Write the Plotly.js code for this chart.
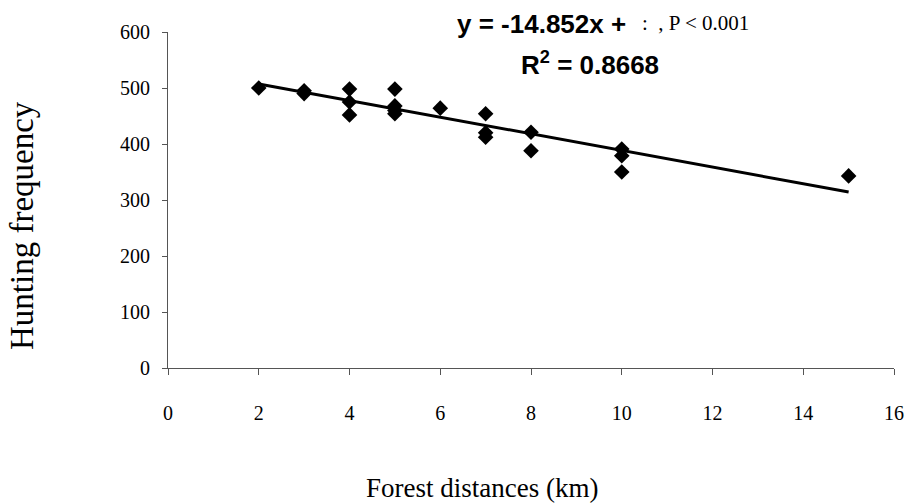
<!DOCTYPE html>
<html>
<head>
<meta charset="utf-8">
<script src="https://cdn.plot.ly/plotly-3.0.1.min.js"></script>
<style>html,body{margin:0;padding:0;background:#fff;}#chart{width:907px;height:504px;}</style>
</head>
<body>
<div id="chart"></div>
<script>
// Observed data (forest distance km, hunting frequency)
const distances = [2, 3, 3, 4, 4, 4, 5, 5, 5, 5, 6, 7, 7, 7, 8, 8, 10, 10, 10, 15];
const hunting   = [500, 495, 490, 498, 475, 452, 498, 468, 460, 454, 464, 454, 420, 412, 421, 388, 391, 379, 350, 343];

// Trend line coefficients (slope from the equation, intercept estimated)
const slope = -14.852;
const intercept = 537;
const trendX = [2, 15];
const trendY = trendX.map(x => slope * x + intercept);

const xTicks = [0, 2, 4, 6, 8, 10, 12, 14, 16];
const yTicks = [0, 100, 200, 300, 400, 500, 600];

const serif = '"Liberation Serif", "Times New Roman", serif';
const sans = '"Liberation Sans", Arial, sans-serif';

const traces = [
  {x: trendX, y: trendY, type: 'scatter', mode: 'lines',
   line: {color: '#000', width: 3}, hoverinfo: 'skip'},
  {x: distances, y: hunting, type: 'scatter', mode: 'markers',
   marker: {symbol: 'diamond', size: 12, color: '#000'}}
];

// helpers: pixel -> paper coordinates
const L = 168, T = 32, W = 726, H = 336;
const px = v => (v - L) / W;
const py = v => (T + H - v) / H;

const layout = {
  width: 907, height: 504,
  margin: {l: L, r: 907 - L - W, t: T, b: 504 - T - H},
  paper_bgcolor: '#fff', plot_bgcolor: '#fff',
  showlegend: false,
  font: {family: serif, color: '#000', size: 18},
  xaxis: {
    range: [0, 16], tickvals: xTicks, ticktext: xTicks.map(String),
    showgrid: false, zeroline: false, showline: true, linecolor: '#555', linewidth: 1,
    ticks: 'outside', ticklen: 6, tickcolor: '#555',
    ticklabelstandoff: 21,
    tickfont: {family: serif, size: 20, color: '#000'}
  },
  yaxis: {
    range: [0, 600], tickvals: yTicks, ticktext: yTicks.map(String),
    showgrid: false, zeroline: false, showline: true, linecolor: '#555', linewidth: 1,
    ticks: 'outside', ticklen: 5, tickcolor: '#555',
    ticklabelstandoff: 8,
    tickfont: {family: serif, size: 20, color: '#000'}
  },
  annotations: [
    {xref: 'paper', yref: 'paper', x: px(482), y: py(488),
     xanchor: 'center', yanchor: 'middle', showarrow: false,
     text: 'Forest distances (km)', font: {family: serif, size: 27, color: '#000'}},
    {xref: 'paper', yref: 'paper', x: px(22), y: py(226), textangle: -90,
     xanchor: 'center', yanchor: 'middle', showarrow: false,
     text: 'Hunting frequency', font: {family: serif, size: 33, color: '#000'}},
    {xref: 'paper', yref: 'paper', x: px(455), y: py(24),
     xanchor: 'left', yanchor: 'middle', showarrow: false,
     text: '<b>y = -14.852x + </b>', font: {family: sans, size: 26, color: '#000'}},
    {xref: 'paper', yref: 'paper', x: px(640), y: py(23),
     xanchor: 'left', yanchor: 'middle', showarrow: false,
     text: ':  , P &lt; 0.001', font: {family: serif, size: 21, color: '#000'}},
    {xref: 'paper', yref: 'paper', x: px(590), y: py(63),
     xanchor: 'center', yanchor: 'middle', showarrow: false,
     text: '<b>R<sup>2</sup> = 0.8668</b>', font: {family: sans, size: 26, color: '#000'}}
  ]
};

Plotly.newPlot('chart', traces, layout, {displayModeBar: false, staticPlot: true});
</script>
</body>
</html>
